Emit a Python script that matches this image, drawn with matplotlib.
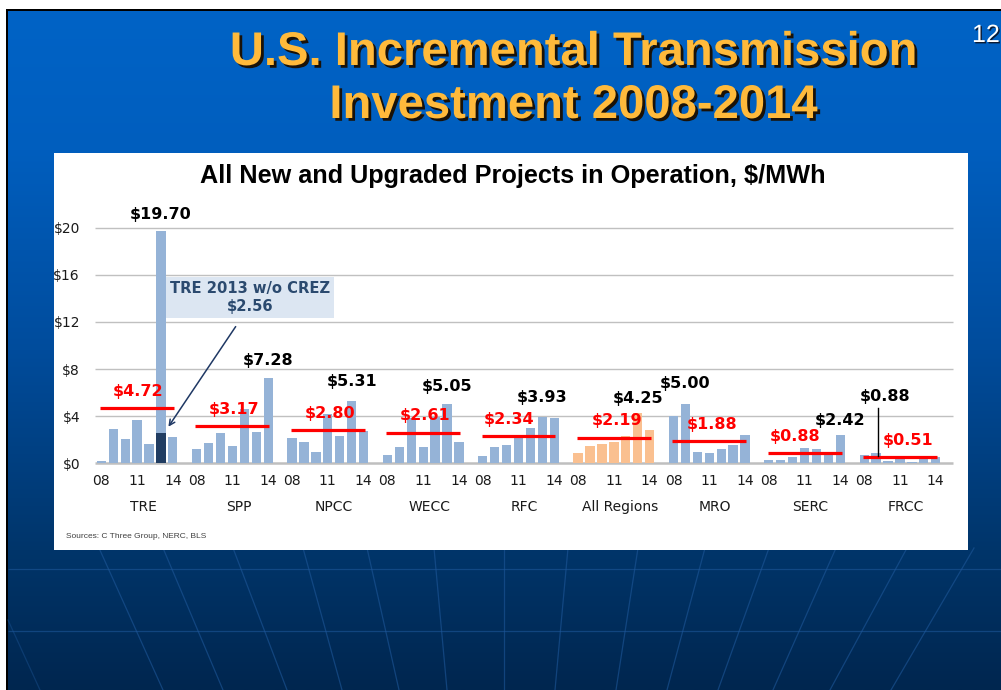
import numpy as np
import matplotlib
matplotlib.use("Agg")
import matplotlib.pyplot as plt
import matplotlib.colors as mcolors
import matplotlib.patheffects as pe
from matplotlib.patches import Rectangle

# ---------------- data ----------------
groups = ["TRE", "SPP", "NPCC", "WECC", "RFC", "All Regions", "MRO", "SERC", "FRCC"]
years = ["08", "09", "10", "11", "12", "13", "14"]
shown_years = ["08", "11", "14"]

tre = [0.17, 2.92, 2.07, 3.65, 1.64, 19.70, 2.24]
spp = [1.19, 1.76, 2.55, 1.47, 4.65, 2.63, 7.28]
npcc = [2.16, 1.81, 0.96, 4.22, 2.29, 5.31, 2.72]
wecc = [0.71, 1.39, 3.85, 1.36, 3.90, 5.05, 1.84]
rfc = [0.59, 1.36, 1.53, 2.32, 2.97, 3.93, 3.82]
all_regions = [0.88, 1.47, 1.64, 1.81, 2.32, 4.25, 2.86]
mro = [4.05, 5.00, 0.96, 0.88, 1.22, 1.56, 2.41]
serc = [0.25, 0.28, 0.57, 1.27, 1.19, 0.68, 2.42]
frcc = [0.72, 0.88, 0.23, 0.48, 0.12, 0.45, 0.55]
series = [tre, spp, npcc, wecc, rfc, all_regions, mro, serc, frcc]

averages = [4.72, 3.17, 2.80, 2.61, 2.34, 2.19, 1.88, 0.88, 0.51]
tre_2013_wo_crez = 2.56

y_ticks = [0, 4, 8, 12, 16, 20]
y_tick_labels = ["$0", "$4", "$8", "$12", "$16", "$20"]

# ---------------- style ----------------
W, H = 1001, 690
C_BAR = "#95B3D7"
C_DARK = "#213D62"
C_ORANGE = "#FAC090"
C_RED = "#FF0000"
C_GRID = "#C0C0C0"
C_GOLD = "#FFBA3B"
TITLE_FONT = ["Liberation Sans", "DejaVu Sans"]
FONT = ["DejaVu Sans"]
red_dx = [0.1, 0.15, 0.2, 0.15, -0.8, 0.25, 0.25, -0.8, 0.65]       # label nudges (slots)
max_dy = [12, 12, 13.8, 12.2, 14, 10.3, 15.1, 10, 0]                  # label lift (points)

fig = plt.figure(figsize=(W / 100, H / 100), dpi=100, facecolor="white")

# background slide
ax_bg = fig.add_axes([0, 0, 1, 1], zorder=0)
ax_bg.add_patch(Rectangle((6, 9), W - 6, H - 9, color="black", lw=0, zorder=0))
stops_y = [11, 150, 350, 550, 690]
stops_c = ["#0063C6", "#005EBE", "#004C9C", "#00356A", "#00264F"]
rgb = np.array([mcolors.to_rgb(c) for c in stops_c])
ys = np.linspace(11, 690, 680)
grad = np.stack([np.interp(ys, stops_y, rgb[:, k]) for k in range(3)], axis=-1)[:, None, :]
ax_bg.imshow(grad, extent=(8, W, H, 11), aspect="auto", interpolation="bilinear", zorder=1)
top_x = [99, 163, 233, 303, 367, 434, 504, 568, 638, 705, 769, 836, 907, 974]
bot_x = [163, 223, 287, 342, 399, 447, 504, 555, 616, 667, 718, 773, 830, 891]
for xt, xb in zip(top_x, bot_x):
    ax_bg.plot([xt, xb], [548, 690], color="#1E5799", lw=0.9, alpha=0.6, zorder=2)
ax_bg.hlines([569, 631], 8, W, color="#1E5799", lw=0.9, alpha=0.6, zorder=2)
ax_bg.plot([8, 40], [620, 690], color="#1E5799", lw=0.9, alpha=0.4, zorder=2)
ax_bg.add_patch(Rectangle((54, 153), 914, 397, color="white", lw=0, zorder=3))
ax_bg.set_xlim(0, W)
ax_bg.set_ylim(H, 0)
ax_bg.axis("off")

# main chart axes
ax = fig.add_axes([95 / W, (H - 463.3) / H, 858 / W, 235.6 / H], zorder=2)
ax.patch.set_alpha(0)
ax.set_xlim(-0.53, 71.45)
ax.set_ylim(0, 20)
for s in ax.spines.values():
    s.set_visible(False)

ax.hlines(y_ticks[1:], -0.53, 71.45, color=C_GRID, lw=1, zorder=0.5, clip_on=False)
ax.hlines(0, -0.53, 71.45, color="#BFBFBF", lw=1.8, zorder=0.6, clip_on=False)

xtick_pos, xtick_lab = [], []
for g, (name, vals) in enumerate(zip(groups, series)):
    x0 = g * 8
    xs = x0 + np.arange(len(years))
    col = C_ORANGE if name == "All Regions" else C_BAR
    ax.bar(xs, vals, width=0.78, color=col, zorder=2)
    for yl in shown_years:
        xtick_pos.append(x0 + years.index(yl))
        xtick_lab.append(yl)
    ax.text(x0 + 3.5, -0.184, name, transform=ax.get_xaxis_transform(),
            ha="center", va="center", fontsize=10, family=FONT, color="#1a1a1a")
    # average line + label
    ax.plot([x0 - 0.1, x0 + 6.1], [averages[g]] * 2, color=C_RED, lw=2.3,
            solid_capstyle="butt", zorder=4)
    ax.annotate(f"${averages[g]:.2f}", xy=(x0 + 3 + red_dx[g], averages[g]),
                xytext=(0, 12), textcoords="offset points", ha="center", va="center",
                fontsize=11.5, fontweight="bold", color=C_RED, family=FONT, zorder=5)
    # max label
    im = int(np.argmax(vals))
    if name == "FRCC":
        ly = vals[im] + 4.8
        ax.plot([x0 + im + 0.18] * 2, [vals[im] - 0.25, ly - 0.95], color="black", lw=1, zorder=5)
        ax.text(x0 + im + 0.72, ly, f"${vals[im]:.2f}", ha="center", va="center",
                fontsize=11.5, fontweight="bold", color="black", family=FONT, zorder=5)
    else:
        ax.annotate(f"${vals[im]:.2f}", xy=(x0 + im, vals[im]), xytext=(0, max_dy[g]),
                    textcoords="offset points", ha="center", va="center",
                    fontsize=11.5, fontweight="bold", color="black", family=FONT,
                    zorder=5, annotation_clip=False)

# TRE 2013 without CREZ
ax.bar([5], [tre_2013_wo_crez], width=0.78, color=C_DARK, zorder=3)
ax.text(12.47, 14.06, f"TRE 2013 w/o CREZ\n${tre_2013_wo_crez:.2f}", ha="center", va="center",
        fontsize=10.6, fontweight="bold", color="#2B4A6F", family=FONT, linespacing=1.3,
        bbox=dict(boxstyle="square,pad=0.25", fc="#DCE6F2", ec="none"), zorder=6)
ax.annotate("", xy=(5.5, tre_2013_wo_crez + 0.35), xytext=(11.4, 11.8),
            arrowprops=dict(arrowstyle="->", color="#1F3864", lw=1.1), zorder=6)

ax.set_yticks(y_ticks)
ax.set_yticklabels(y_tick_labels, fontsize=10, family=FONT, color="#1a1a1a")
ax.set_xticks(xtick_pos)
ax.set_xticklabels(xtick_lab, fontsize=10, family=FONT, color="#1a1a1a")
ax.tick_params(axis="y", length=0, pad=10.8)
ax.tick_params(axis="x", length=0, pad=7.5)

# overlay texts
ov = fig.add_axes([0, 0, 1, 1], zorder=3)
ov.patch.set_alpha(0)
ov.set_xlim(0, W)
ov.set_ylim(H, 0)
ov.axis("off")
shadow = [pe.withSimplePatchShadow(offset=(2, -2), shadow_rgbFace="#1a1208", alpha=1.0)]
for txt, yb in [("U.S. Incremental Transmission", 65), ("Investment 2008-2014", 118)]:
    ov.text(574, yb, txt, ha="center", va="baseline", fontsize=34,
            fontweight="bold", family=TITLE_FONT, color=C_GOLD, path_effects=shadow)
ov.text(972, 42, "12", ha="left", va="baseline", fontsize=18, family=TITLE_FONT, color="white",
        path_effects=[pe.withSimplePatchShadow(offset=(1, -1), shadow_rgbFace="#0a1a33", alpha=1.0)])
ov.text(512.5, 183.3, "All New and Upgraded Projects in Operation, $/MWh", ha="center",
        va="baseline", fontsize=18.2, fontweight="bold", family=TITLE_FONT, color="black")
ov.text(66, 536.7, "Sources: C Three Group, NERC, BLS", ha="left", va="center",
        fontsize=6, family=TITLE_FONT, color="#404040")

fig.savefig("out.png", dpi=100, facecolor=fig.get_facecolor())
